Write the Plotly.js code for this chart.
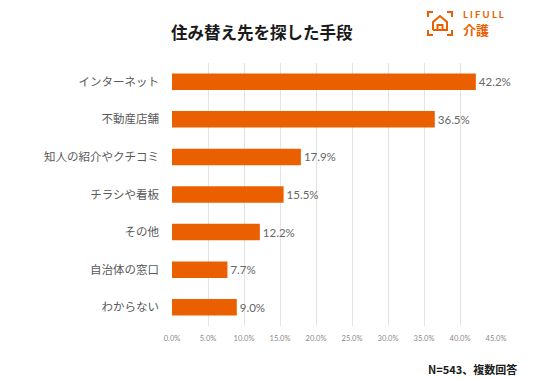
<!DOCTYPE html>
<html><head><meta charset="utf-8">
<script src="https://cdn.plot.ly/plotly-3.0.1.min.js"></script>
<style>html,body{margin:0;padding:0;background:#fff;}#c{width:536px;height:379px;}</style>
</head><body><div id="c"></div>
<script>
const categories = ["インターネット","不動産店舗","知人の紹介やクチコミ","チラシや看板","その他","自治体の窓口","わからない"];
const values = [42.2, 36.5, 17.9, 15.5, 12.2, 7.7, 9.0];
const tickVals = [0,5,10,15,20,25,30,35,40,45];
const tickText = ["0.0%","5.0%","10.0%","15.0%","20.0%","25.0%","30.0%","35.0%","40.0%","45.0%"];
const orange = "#EA6000";
const W=536,H=379,L=172,R=40,T=63,B=53;
const pw=W-L-R, ph=H-T-B;
function px(x){return (x-L)/pw;}
function py(y){return (H-B-y)/ph;}
function path(pts){return pts.map((p,i)=>(i?"L":"M")+px(p[0]).toFixed(4)+","+py(p[1]).toFixed(4)).join(" ");}
const logoLine={color:orange,width:2};
const logoPaths=[
 [[428,17],[428,12],[433,12]],
 [[447,12],[452,12],[452,17]],
 [[428,30],[428,35],[433,35]],
 [[447,35],[452,35],[452,30]],
 [[433,30],[433,22],[440,16],[447,22],[447,30],[433,30]],
 [[437.5,30],[437.5,25],[442.5,25],[442.5,30]]
];
const shapes=logoPaths.map(p=>({type:"path",xref:"paper",yref:"paper",path:path(p),line:logoLine}));
const jp='"Noto Sans CJK JP", "Noto Sans", sans-serif';
const data=[{type:"bar",orientation:"h",x:values,y:categories,marker:{color:orange},width:0.44,
 text:values.map(v=>v.toFixed(1)+"%"),textposition:"outside",cliponaxis:false,
 textfont:{family:'Lato, "Noto Sans", sans-serif',size:11.5,color:"#666666"},hoverinfo:"none"}];
const layout={width:W,height:H,margin:{l:L,r:R,t:T,b:B,pad:0},paper_bgcolor:"#fff",plot_bgcolor:"#fff",
 showlegend:false,font:{family:jp},
 xaxis:{range:[0,45],tickvals:tickVals,ticktext:tickText,showgrid:true,gridcolor:"#e3e3e3",gridwidth:1,
  zeroline:false,showline:false,ticks:"",ticklabelstandoff:6,tickfont:{size:7.5,color:"#8a8a8a",family:'Lato, "Noto Sans", sans-serif'},fixedrange:true},
 yaxis:{type:"category",categoryorder:"array",categoryarray:categories,autorange:"reversed",
  showgrid:false,zeroline:false,showline:false,ticks:"",ticklabelstandoff:12,tickfont:{size:11.5,color:"#595959",family:jp}},
 shapes:shapes,
 annotations:[
  {xref:"paper",yref:"paper",x:px(262),y:py(32),xanchor:"center",yanchor:"middle",text:"<b>住み替え先を探した手段</b>",showarrow:false,font:{size:16.5,color:"#1a1a1a",family:jp}},
  {xref:"paper",yref:"paper",x:px(461),y:py(14),xanchor:"left",yanchor:"middle",text:"<b>L I F U L L</b>",showarrow:false,font:{size:9.5,color:orange,family:'Lato, "Noto Sans", sans-serif'}},
  {xref:"paper",yref:"paper",x:px(461),y:py(30),xanchor:"left",yanchor:"middle",text:"<b>介護</b>",showarrow:false,font:{size:13,color:orange,family:jp}},
  {xref:"paper",yref:"paper",x:px(519),y:py(369),xanchor:"right",yanchor:"middle",text:"<b>N=543、複数回答</b>",showarrow:false,font:{size:11,color:"#1a1a1a",family:jp}}
 ]};
Plotly.newPlot("c",data,layout,{displayModeBar:false,staticPlot:true});
</script></body></html>
